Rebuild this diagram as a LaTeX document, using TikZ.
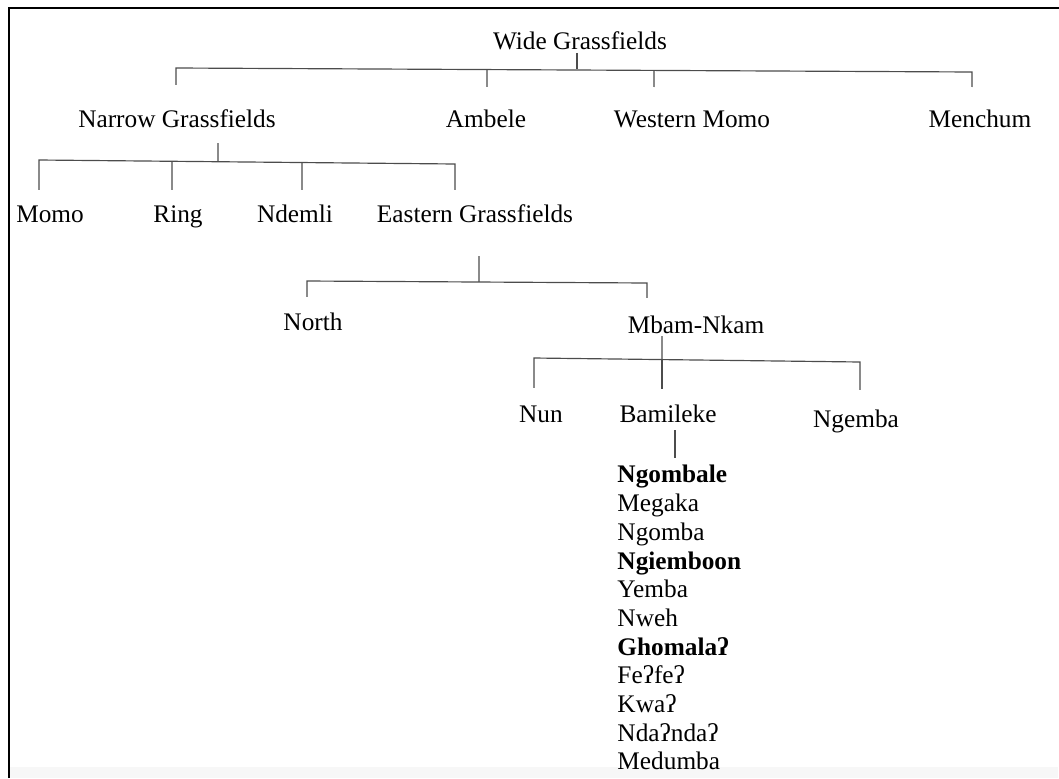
\documentclass[tikz,border=0pt]{standalone}
\usepackage{fontspec}
\setmainfont{Liberation Serif}

\begin{document}
\begin{tikzpicture}[scale=0.15]
\tikzstyle{every node}+=[inner sep=0pt, font=\fontsize{10.8}{13}\selectfont]
\tikzstyle{lang}=[anchor=base]
\tikzstyle{member}=[anchor=base west]
\tikzstyle{branch}=[black!70, line width=0.5pt]
\useasboundingbox (0,0) rectangle (105.9,-77.8);
% frame
\fill [black!3] (1.0,-76.7) rectangle (105.8,-77.8);
\draw [black, line width=0.9pt] (0.9,-77.8) -- (0.9,-0.8) -- (105.9,-0.8);
% labels
\node [lang] (wide) at (58.0,-4.9) {Wide Grassfields};
\node [lang] (narrow) at (17.7,-12.7) {Narrow Grassfields};
\node [lang] (ambele) at (48.6,-12.7) {Ambele};
\node [lang] (wmomo) at (69.2,-12.7) {Western Momo};
\node [lang] (menchum) at (98.0,-12.7) {Menchum};
\node [lang] (momo) at (5.0,-22.2) {Momo};
\node [lang] (ring) at (17.8,-22.2) {Ring};
\node [lang] (ndemli) at (29.5,-22.2) {Ndemli};
\node [lang] (eastern) at (47.5,-22.2) {Eastern Grassfields};
\node [lang] (north) at (31.3,-33.0) {North};
\node [lang] (mbam) at (69.6,-33.3) {Mbam-Nkam};
\node [lang] (nun) at (54.1,-42.2) {Nun};
\node [lang] (bamileke) at (66.8,-42.2) {Bamileke};
\node [lang] (ngemba) at (85.6,-42.7) {Ngemba};
% Bamileke languages
\node [member] (ngombale) at (61.7,-48.2) {\bfseries Ngombale};
\node [member] (megaka) at (61.7,-51.1) {Megaka};
\node [member] (ngomba) at (61.7,-54.0) {Ngomba};
\node [member] (ngiemboon) at (61.7,-56.9) {\bfseries Ngiemboon};
\node [member] (yemba) at (61.7,-59.7) {Yemba};
\node [member] (nweh) at (61.7,-62.6) {Nweh};
\node [member] (ghomala) at (61.7,-65.5) {\bfseries Ghomalaʔ};
\node [member] (fefe) at (61.7,-68.3) {Feʔfeʔ};
\node [member] (kwa) at (61.7,-71.2) {Kwaʔ};
\node [member] (ndanda) at (61.7,-74.1) {Ndaʔndaʔ};
\node [member] (medumba) at (61.7,-76.9) {Medumba};
% Wide Grassfields
\coordinate (wj) at (57.7,-6.95);
\coordinate (narrowup) at (17.6,-8.5);
\coordinate (ambeleup) at (48.7,-8.7);
\coordinate (wmomoup) at (65.4,-8.7);
\coordinate (menchumup) at (97.2,-8.7);
\draw [branch] (wj |- wide.south) ++(0,-0.3) -- (wj);
\draw [branch] (narrowup) -- (17.6,-6.8) -- (97.2,-7.2) -- (menchumup);
\draw [branch] (48.7,-6.96) -- (ambeleup);
\draw [branch] (65.4,-7.04) -- (wmomoup);
% Narrow Grassfields
\coordinate (nj) at (21.8,-16.1);
\coordinate (momoup) at (3.9,-19.0);
\coordinate (ringup) at (17.2,-19.0);
\coordinate (ndemliup) at (30.2,-19.0);
\coordinate (easternup) at (45.5,-19.0);
\draw [branch] (21.8,-14.3) -- (nj);
\draw [branch] (momoup) -- (3.9,-16.0) -- (45.5,-16.4) -- (easternup);
\draw [branch] (17.2,-16.13) -- (ringup);
\draw [branch] (30.2,-16.25) -- (ndemliup);
% Eastern Grassfields
\coordinate (ej) at (47.9,-28.2);
\coordinate (northup) at (30.7,-29.7);
\coordinate (mbamup) at (64.7,-29.8);
\draw [branch] (47.9,-25.6) -- (ej);
\draw [branch] (northup) -- (30.7,-28.1) -- (64.7,-28.3) -- (mbamup);
% Mbam-Nkam
\coordinate (mj) at (66.2,-35.95);
\coordinate (nunup) at (53.4,-38.8);
\coordinate (bamilekeup) at (66.2,-38.9);
\coordinate (ngembaup) at (86.0,-39.0);
\draw [branch] (66.2,-33.6) -- (mj);
\draw [branch] (nunup) -- (53.4,-35.8) -- (86.0,-36.2) -- (ngembaup);
\draw [branch] (mj) -- (bamilekeup);
% Bamileke
\draw [branch] (67.5,-43.0) -- (67.5,-45.8);
\end{tikzpicture}
\end{document}
